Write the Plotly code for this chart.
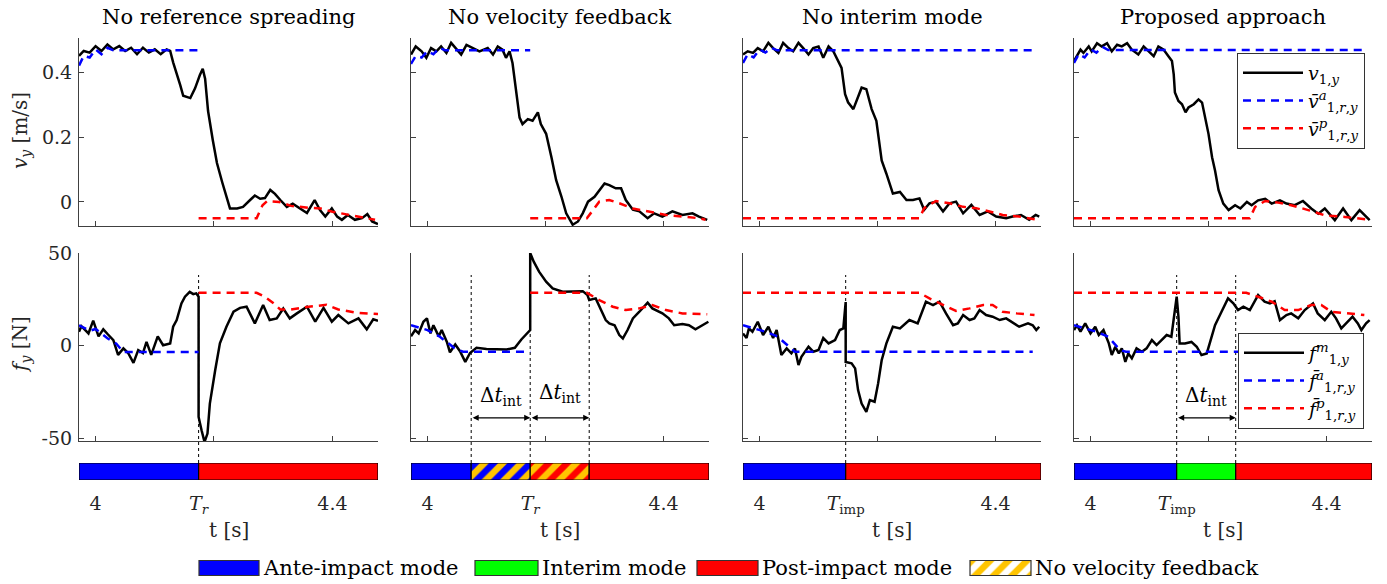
import plotly.graph_objects as go

W, H = 1387, 584
FONT = "DejaVu Serif"

# ---------------- data ----------------
titles = ["No reference spreading", "No velocity feedback", "No interim mode", "Proposed approach"]
T_START, T_END = 3.972, 4.477
v_ticks = [0, 0.2, 0.4]
v_ticktext = ["0", "0.2", "0.4"]
f_ticks = [-50, 0, 50]
f_ticktext = ["-50", "0", "50"]
t_ticks = [4.0, 4.2, 4.4]

# column 1: no reference spreading
t_v1 = [3.972, 3.98, 3.99, 4.00, 4.01, 4.02, 4.03, 4.04, 4.05, 4.06, 4.07, 4.08, 4.09, 4.10, 4.11, 4.12, 4.126, 4.131, 4.143, 4.148,
        4.16, 4.168, 4.176, 4.181, 4.185, 4.19, 4.198, 4.205, 4.214, 4.222, 4.227, 4.239, 4.249, 4.261, 4.269, 4.278, 4.286, 4.295, 4.303, 4.312,
        4.323, 4.333, 4.345, 4.357, 4.37, 4.379, 4.388, 4.399, 4.408, 4.416, 4.426, 4.438, 4.45, 4.459, 4.467, 4.477]
v1 = [0.45, 0.465, 0.46, 0.48, 0.465, 0.485, 0.47, 0.48, 0.465, 0.475, 0.455, 0.475, 0.46, 0.47, 0.455, 0.47, 0.465, 0.43, 0.36, 0.327,
      0.32, 0.35, 0.39, 0.41, 0.38, 0.28, 0.19, 0.12, 0.06, 0.006, -0.02, -0.02, -0.015, 0.006, 0.02, 0.01, 0.012, 0.037, 0.025, 0.006,
      -0.015, -0.005, -0.02, -0.034, 0.006, -0.025, -0.045, -0.02, -0.045, -0.055, -0.04, -0.055, -0.05, -0.037, -0.06, -0.068]
t_va1 = [3.972, 3.98, 3.99, 4.0, 4.01, 4.02, 4.03, 4.174]
va1 = [0.42, 0.45, 0.445, 0.47, 0.455, 0.475, 0.467, 0.467]
t_vp1 = [4.174, 4.272, 4.282, 4.29, 4.31, 4.33, 4.36, 4.38, 4.40, 4.43, 4.45, 4.472]
vp1 = [-0.05, -0.05, -0.01, 0.003, 0.0, -0.012, -0.018, -0.02, -0.03, -0.04, -0.047, -0.055]
t_f1 = [3.972, 3.976, 3.988, 3.996, 4.005, 4.013, 4.021, 4.03, 4.038, 4.047, 4.055, 4.064, 4.072, 4.08, 4.086, 4.094, 4.105, 4.114, 4.126, 4.131,
        4.137, 4.145, 4.151, 4.159, 4.165, 4.17, 4.174, 4.174, 4.179, 4.184, 4.189, 4.193, 4.202, 4.21, 4.221, 4.233, 4.244, 4.255, 4.269, 4.283,
        4.294, 4.306, 4.317, 4.328, 4.34, 4.357, 4.371, 4.385, 4.399, 4.41, 4.427, 4.444, 4.458, 4.469, 4.477]
f1 = [7.5, 10.5, 6.6, 13.5, 5, 8.8, 6, 3, -5, -1.5, -4, -9.3, -2.4, -4, 2, -5, 5, 0.2, 1.2, 10.2,
      13.8, 22.8, 26.4, 29, 27.8, 28.2, 26.4, -38.5, -45.7, -52, -47.5, -31.3, -13.3, 1.2, 10.2, 18.3, 20.4, 21, 12, 21.9,
      13.8, 14.7, 20, 14.7, 17.4, 21, 12.9, 20.4, 12.9, 16.5, 12, 14.7, 8.8, 14.2, 13.4]
t_fa1 = [3.972, 3.99, 4.0, 4.02, 4.035, 4.047, 4.174]
fa1 = [11, 8, 9, 4, 1, -3.5, -3.5]
t_fp1 = [4.174, 4.272, 4.285, 4.3, 4.312, 4.33, 4.36, 4.39, 4.41, 4.44, 4.477]
fp1 = [28.5, 28.5, 26.5, 23, 19.5, 19.5, 21, 22, 19.5, 17.8, 17]

# column 2: no velocity feedback
t_v2 = [3.972, 3.98, 3.99, 3.998, 4.006, 4.015, 4.023, 4.032, 4.04, 4.049, 4.057, 4.066, 4.077, 4.088, 4.102, 4.111, 4.119, 4.127, 4.133, 4.139,
        4.144, 4.15, 4.156, 4.161, 4.17, 4.178, 4.187, 4.192, 4.201, 4.21, 4.218, 4.227, 4.235, 4.246, 4.255, 4.263, 4.272, 4.283, 4.291, 4.3,
        4.308, 4.319, 4.328, 4.336, 4.348, 4.359, 4.373, 4.384, 4.398, 4.415, 4.432, 4.449, 4.46, 4.474]
v2 = [0.454, 0.479, 0.464, 0.444, 0.474, 0.464, 0.479, 0.459, 0.49, 0.469, 0.454, 0.484, 0.474, 0.464, 0.474, 0.454, 0.479, 0.469, 0.444, 0.464,
      0.428, 0.352, 0.26, 0.24, 0.255, 0.25, 0.276, 0.24, 0.21, 0.138, 0.067, 0.016, -0.035, -0.07, -0.06, -0.035, 0.001, 0.016, 0.037, 0.057,
      0.052, 0.042, 0.042, 0.006, -0.024, -0.029, -0.05, -0.035, -0.045, -0.029, -0.04, -0.035, -0.045, -0.055]
t_va2 = [3.972, 3.98, 3.99, 4.0, 4.01, 4.02, 4.03, 4.174]
va2 = [0.425, 0.45, 0.445, 0.465, 0.455, 0.475, 0.467, 0.467]
t_vp2 = [4.174, 4.27, 4.281, 4.291, 4.308, 4.325, 4.348, 4.376, 4.404, 4.432, 4.46, 4.471]
vp2 = [-0.05, -0.05, -0.024, 0.001, 0.006, -0.004, -0.02, -0.03, -0.04, -0.045, -0.05, -0.055]
t_f2 = [3.972, 3.979, 3.985, 3.993, 3.999, 4.005, 4.01, 4.019, 4.024, 4.033, 4.038, 4.047, 4.055, 4.064, 4.072, 4.083, 4.1, 4.117, 4.134, 4.148,
        4.159, 4.174, 4.174, 4.18, 4.189, 4.201, 4.212, 4.229, 4.246, 4.263, 4.271, 4.274, 4.285, 4.294, 4.302, 4.308, 4.317, 4.325, 4.331, 4.339,
        4.348, 4.359, 4.373, 4.381, 4.398, 4.409, 4.418, 4.432, 4.443, 4.454, 4.466, 4.476]
f2 = [5, 8.4, 6.6, 12.9, 14.7, 6.6, 11, 5, 8.4, 1.8, -3.6, 0.6, -3, -8.8, -4, -1.2, -1.8, -2.1, -2.1, -1.2,
      3.3, 8.4, 50, 45.3, 39.9, 34.5, 30.9, 29.1, 29.1, 29.4, 27.3, 24.6, 25.5, 19.2, 13.8, 12, 11, 5.7, 3.9, 8.4,
      14.7, 18.3, 23.2, 20.1, 17.4, 14.7, 11, 11.6, 11, 8.8, 11, 12.9]
t_fa2 = [3.972, 4.0, 4.02, 4.045, 4.06, 4.174]
fa2 = [11, 8.4, 5, -1.2, -3.3, -3.3]
t_fp2 = [4.174, 4.27, 4.291, 4.314, 4.336, 4.359, 4.381, 4.404, 4.432, 4.474]
fp2 = [28.5, 28.5, 24.6, 21, 19.2, 20.1, 21.9, 19.2, 17.4, 16.9]

# column 3: no interim mode
t_v3 = [3.972, 3.98, 3.989, 3.997, 4.006, 4.015, 4.023, 4.032, 4.04, 4.049, 4.057, 4.066, 4.074, 4.083, 4.091, 4.1, 4.108, 4.117, 4.125, 4.134,
        4.139, 4.145, 4.15, 4.159, 4.167, 4.173, 4.181, 4.19, 4.198, 4.207, 4.215, 4.226, 4.238, 4.249, 4.26, 4.271, 4.279, 4.288, 4.299, 4.311,
        4.322, 4.333, 4.345, 4.359, 4.373, 4.387, 4.401, 4.418, 4.429, 4.443, 4.457, 4.468, 4.474]
v3 = [0.454, 0.464, 0.459, 0.474, 0.464, 0.49, 0.474, 0.459, 0.49, 0.474, 0.464, 0.49, 0.474, 0.454, 0.474, 0.479, 0.444, 0.479, 0.464, 0.434,
      0.413, 0.332, 0.307, 0.286, 0.322, 0.352, 0.347, 0.286, 0.25, 0.128, 0.087, 0.026, 0.031, 0.006, 0.006, 0.011, -0.024, -0.004, 0.001, -0.029,
      -0.004, 0.001, -0.035, -0.009, -0.04, -0.029, -0.045, -0.05, -0.045, -0.04, -0.055, -0.04, -0.045]
t_va3 = [3.972, 3.98, 3.99, 4.0, 4.01, 4.02, 4.03, 4.465]
va3 = [0.428, 0.455, 0.445, 0.47, 0.46, 0.475, 0.467, 0.467]
t_vp3 = [3.972, 4.271, 4.279, 4.299, 4.322, 4.345, 4.367, 4.39, 4.412, 4.44, 4.471]
vp3 = [-0.05, -0.05, -0.019, 0.003, -0.004, -0.015, -0.019, -0.029, -0.04, -0.045, -0.055]
t_f3 = [3.972, 3.978, 3.982, 3.988, 3.997, 4.006, 4.015, 4.023, 4.029, 4.037, 4.046, 4.054, 4.06, 4.066, 4.071, 4.083, 4.091, 4.1, 4.108, 4.117,
        4.128, 4.136, 4.142, 4.146, 4.146, 4.156, 4.162, 4.167, 4.173, 4.181, 4.187, 4.195, 4.201, 4.207, 4.215, 4.226, 4.238, 4.254, 4.268, 4.282,
        4.294, 4.305, 4.316, 4.328, 4.336, 4.345, 4.356, 4.364, 4.373, 4.384, 4.395, 4.407, 4.418, 4.432, 4.44, 4.455, 4.463, 4.469, 4.474]
f3 = [6.6, 4.1, 9.3, 7.5, 12.9, 5.7, 10.2, 4.1, 8.4, -5.1, -1.5, -4.2, -1.5, -10.5, -6, -0.6, -3.3, -2.4, 4.1, 1.2,
      3, 8.4, 9.3, 23.5, -8.8, -9.6, -12.3, -24, -31.3, -35.8, -29.4, -30.3, -20.4, -7.9, 1.2, 10.2, 9.3, 13.8, 12, 23.7,
      21.9, 23.7, 17.4, 11, 12, 16.5, 13.8, 14.7, 19.2, 16.5, 15.6, 13.8, 14.7, 12, 10.2, 12, 11, 8.4, 10.2]
t_fa3 = [3.972, 3.99, 4.01, 4.03, 4.05, 4.06, 4.463]
fa3 = [11, 9.3, 7.5, 5, -0.6, -3.3, -3.3]
t_fp3 = [3.972, 4.271, 4.288, 4.311, 4.333, 4.356, 4.379, 4.395, 4.412, 4.435, 4.466]
fp3 = [28.5, 28.5, 25.5, 21.9, 18.7, 20.1, 21.9, 21.9, 18.3, 17.4, 16.5]

# column 4: proposed approach
t_v4 = [3.972, 3.977, 3.983, 3.988, 3.997, 4.002, 4.011, 4.019, 4.028, 4.036, 4.045, 4.053, 4.062, 4.07, 4.081, 4.09, 4.098, 4.107, 4.115, 4.124,
        4.132, 4.138, 4.141, 4.143, 4.149, 4.155, 4.161, 4.166, 4.175, 4.183, 4.189, 4.194, 4.2, 4.206, 4.211, 4.217, 4.225, 4.234, 4.245, 4.254,
        4.265, 4.273, 4.284, 4.296, 4.307, 4.321, 4.332, 4.346, 4.36, 4.374, 4.386, 4.397, 4.414, 4.428, 4.442, 4.456, 4.464, 4.473]
v4 = [0.434, 0.449, 0.469, 0.459, 0.479, 0.464, 0.489, 0.479, 0.489, 0.464, 0.484, 0.479, 0.489, 0.469, 0.454, 0.479, 0.464, 0.449, 0.479, 0.469,
      0.449, 0.434, 0.393, 0.337, 0.311, 0.301, 0.276, 0.291, 0.301, 0.316, 0.306, 0.265, 0.209, 0.138, 0.097, 0.036, -0.005, -0.025, -0.01, -0.02,
      0.0, -0.01, 0.005, 0.01, -0.005, 0.005, -0.005, -0.01, 0.003, -0.02, -0.036, -0.02, -0.056, -0.02, -0.056, -0.025, -0.041, -0.056]
t_va4 = [3.972, 3.98, 3.99, 4.0, 4.01, 4.02, 4.03, 4.464]
va4 = [0.428, 0.455, 0.445, 0.47, 0.46, 0.478, 0.468, 0.468]
t_vp4 = [3.972, 4.27, 4.279, 4.296, 4.318, 4.34, 4.369, 4.397, 4.431, 4.47]
vp4 = [-0.05, -0.05, -0.015, 0.003, -0.002, -0.01, -0.025, -0.041, -0.046, -0.054]
t_f4 = [3.972, 3.977, 3.983, 3.991, 4.0, 4.008, 4.014, 4.022, 4.031, 4.036, 4.042, 4.048, 4.053, 4.059, 4.064, 4.07, 4.078, 4.087, 4.095, 4.104,
        4.112, 4.121, 4.129, 4.137, 4.142, 4.146, 4.149, 4.151, 4.16, 4.171, 4.18, 4.188, 4.197, 4.202, 4.211, 4.222, 4.233, 4.242, 4.25, 4.259,
        4.27, 4.284, 4.295, 4.304, 4.312, 4.321, 4.332, 4.34, 4.352, 4.363, 4.377, 4.385, 4.397, 4.408, 4.416, 4.425, 4.436, 4.444, 4.453, 4.459,
        4.467, 4.473]
f4 = [8.4, 11, 7.5, 12, 6.6, 10.2, 5.7, 8.4, 1.2, -5.1, -0.6, -4.2, -1.5, -8.8, -4.2, -6.9, -1.5, -3.3, -1.5, 3,
      0.3, 3, 5.7, 4.8, 15.6, 26.4, 15.6, 1.2, 1.2, 2, -0.6, -5.1, -4.2, 1.2, 11, 18.3, 25.5, 22.8, 19.2, 21,
      19.2, 27.3, 23.7, 22.8, 24, 13.8, 16.5, 17.4, 14.7, 19.2, 22.8, 17.4, 13.8, 18.3, 14.7, 9.3, 12.9, 15.6, 12, 8.4,
      12, 13.8]
t_fa4 = [3.972, 3.99, 4.01, 4.03, 4.05, 4.06, 4.463]
fa4 = [11, 9.3, 7.5, 4.8, -2.4, -3.3, -3.3]
t_fp4 = [3.972, 4.264, 4.284, 4.307, 4.329, 4.352, 4.374, 4.391, 4.408, 4.431, 4.464]
fp4 = [28.5, 28.5, 26.4, 23.7, 19.2, 19.2, 21.9, 21.9, 18.3, 17.4, 16.5]

# mode timelines (boundaries) and mode names
mode_bounds1 = [T_START, 4.174, T_END]
mode_names1 = ["ante", "post"]
mode_bounds2 = [T_START, 4.074, 4.174, 4.274, T_END]
mode_names2 = ["ante", "nvf_ante", "nvf_post", "post"]
mode_bounds3 = [T_START, 4.146, T_END]
mode_names3 = ["ante", "post"]
mode_bounds4 = [T_START, 4.146, 4.246, T_END]
mode_names4 = ["ante", "interim", "post"]

event_t = [4.174, 4.174, 4.146, 4.146]
event_label = ["<i>T<sub>r</sub></i>", "<i>T<sub>r</sub></i>", "<i>T</i><sub>imp</sub>", "<i>T</i><sub>imp</sub>"]
dotted_lines = [[4.174], [4.074, 4.174, 4.274], [4.146], [4.146, 4.246]]
dt_intervals = [[], [(4.074, 4.174), (4.174, 4.274)], [], [(4.146, 4.246)]]

legend_modes = ["ante", "interim", "post", "nvf_post"]
legend_mode_labels = ["Ante-impact mode", "Interim mode", "Post-impact mode", "No velocity feedback"]

# ---------------- styling ----------------
BLUE, RED, GREEN, GOLD = "#0000FF", "#FF0000", "#00FF00", "#FFC400"
AX = "#404040"
HATCH = dict(shape="/", fgcolor=GOLD, size=13, solidity=0.5, fgopacity=1, fillmode="replace")
mode_style = {
    "ante": dict(color=BLUE),
    "post": dict(color=RED),
    "interim": dict(color=GREEN),
    "nvf_ante": dict(color=BLUE, pattern=dict(HATCH, bgcolor=BLUE)),
    "nvf_post": dict(color=RED, pattern=dict(HATCH, bgcolor=RED)),
}

col_left = [79, 411, 743, 1074]
col_right = [378, 709, 1041, 1372]


def px(p):
    return p / W


def py(p):
    return 1 - p / H


cols = [
    (t_v1, v1, t_va1, va1, t_vp1, vp1, t_f1, f1, t_fa1, fa1, t_fp1, fp1, mode_bounds1, mode_names1),
    (t_v2, v2, t_va2, va2, t_vp2, vp2, t_f2, f2, t_fa2, fa2, t_fp2, fp2, mode_bounds2, mode_names2),
    (t_v3, v3, t_va3, va3, t_vp3, vp3, t_f3, f3, t_fa3, fa3, t_fp3, fp3, mode_bounds3, mode_names3),
    (t_v4, v4, t_va4, va4, t_vp4, vp4, t_f4, f4, t_fa4, fa4, t_fp4, fp4, mode_bounds4, mode_names4),
]

fig = go.Figure()
layout = {}
shapes = []
annotations = []
DASH = "8px,6px"
LW = 2.5
TICKFONT = dict(size=19, color="#262626")


def ax_names(n):
    return ("x" if n == 1 else f"x{n}"), ("y" if n == 1 else f"y{n}")


def lay_names(n):
    return ("xaxis" if n == 1 else f"xaxis{n}"), ("yaxis" if n == 1 else f"yaxis{n}")


def text_note(x, y, text, size=19, color="#262626", **kw):
    d = dict(x=x, y=y, xref="paper", yref="paper", text=text, showarrow=False, xanchor="center",
             yanchor="middle", font=dict(size=size, color=color))
    d.update(kw)
    return d


v_leg = ["<i>v</i><sub>1,<i>y</i></sub>", "<i>v̄</i><sup><i>a</i></sup><sub>1,<i>r</i>,<i>y</i></sub>",
         "<i>v̄</i><sup><i>p</i></sup><sub>1,<i>r</i>,<i>y</i></sub>"]
f_leg = ["<i>f</i><sup><i>m</i></sup><sub>1,<i>y</i></sub>", "<i>f̄</i><sup><i>a</i></sup><sub>1,<i>r</i>,<i>y</i></sub>",
         "<i>f̄</i><sup><i>p</i></sup><sub>1,<i>r</i>,<i>y</i></sub>"]

for c, data in enumerate(cols):
    (tv, v, tva, va, tvp, vp, tf, f, tfa, fa, tfp, fp, mb, mn) = data
    n_top, n_bot, n_bar = 3 * c + 1, 3 * c + 2, 3 * c + 3
    last = c == 3
    for n, (tt, yy, ta, ya, tp, yp, names, legname) in [
        (n_top, (tv, v, tva, va, tvp, vp, v_leg, "legend")),
        (n_bot, (tf, f, tfa, fa, tfp, fp, f_leg, "legend2")),
    ]:
        xa, ya_ = ax_names(n)
        fig.add_trace(go.Scatter(x=tt, y=yy, mode="lines", line=dict(color="black", width=LW),
                                 xaxis=xa, yaxis=ya_, name=names[0], showlegend=last, legend=legname))
        fig.add_trace(go.Scatter(x=ta, y=ya, mode="lines", line=dict(color=BLUE, width=LW, dash=DASH),
                                 xaxis=xa, yaxis=ya_, name=names[1], showlegend=last, legend=legname))
        fig.add_trace(go.Scatter(x=tp, y=yp, mode="lines", line=dict(color=RED, width=LW, dash=DASH),
                                 xaxis=xa, yaxis=ya_, name=names[2], showlegend=last, legend=legname))
    # mode bar
    xa, ya_ = ax_names(n_bar)
    for i, m in enumerate(mn):
        st = mode_style[m]
        marker = dict(color=st["color"], line=dict(color="black", width=1.2))
        if "pattern" in st:
            marker["pattern"] = st["pattern"]
        fig.add_trace(go.Bar(y=[0], x=[mb[i + 1] - mb[i]], base=[mb[i]], orientation="h", width=1,
                             marker=marker, xaxis=xa, yaxis=ya_, showlegend=False, hoverinfo="skip"))

    dom_x = [px(col_left[c]), px(col_right[c])]
    common = dict(showgrid=False, zeroline=False, showline=True, linecolor=AX, linewidth=1,
                  ticks="inside", ticklen=5, tickcolor=AX, tickfont=TICKFONT, automargin=False)
    # top
    xk, yk = lay_names(n_top)
    layout[xk] = dict(domain=dom_x, range=[T_START, T_END], anchor=ax_names(n_top)[1], tickvals=t_ticks,
                      showticklabels=False, **common)
    layout[yk] = dict(domain=[py(226), py(38)], range=[-0.074, 0.505], anchor=ax_names(n_top)[0],
                      tickvals=v_ticks, ticktext=v_ticktext, showticklabels=(c == 0), ticklabelstandoff=2, **common)
    # bottom
    xk, yk = lay_names(n_bot)
    layout[xk] = dict(domain=dom_x, range=[T_START, T_END], anchor=ax_names(n_bot)[1], tickvals=t_ticks,
                      showticklabels=False, **common)
    layout[yk] = dict(domain=[py(441), py(253)], range=[-51.5, 50], anchor=ax_names(n_bot)[0],
                      tickvals=f_ticks, ticktext=f_ticktext, showticklabels=(c == 0), ticklabelstandoff=2, **common)
    # bar
    xk, yk = lay_names(n_bar)
    layout[xk] = dict(domain=dom_x, range=[T_START, T_END], anchor=ax_names(n_bar)[1],
                      tickvals=[t_ticks[0], event_t[c], t_ticks[2]],
                      ticktext=["4", event_label[c], "4.4"], ticks="", showline=False, showgrid=False,
                      zeroline=False, tickfont=TICKFONT, ticklabelstandoff=10, automargin=False)
    layout[yk] = dict(domain=[py(480), py(463)], range=[-0.5, 0.5], anchor=ax_names(n_bar)[0], visible=False)

    # dotted event lines
    xb = ax_names(n_bot)[0]
    for tl in dotted_lines[c]:
        shapes.append(dict(type="line", xref=xb, yref="paper", x0=tl, x1=tl, y0=py(463), y1=py(275),
                           line=dict(color="black", width=1, dash="dot"), layer="below"))
    # delta t arrows
    yb = ax_names(n_bot)[1]
    for k, (a, b) in enumerate(dt_intervals[c]):
        annotations.append(dict(x=b, y=-39, ax=a, ay=-39, xref=xb, yref=yb, axref=xb, ayref=yb, text="",
                                showarrow=True, arrowhead=2, arrowside="end+start", arrowsize=1, arrowwidth=1.2,
                                arrowcolor="black"))
        annotations.append(dict(x=(a + b) / 2, y=-27 + (1.5 if k == 1 else 0), xref=xb, yref=yb,
                                text="Δ<i>t</i><sub>int</sub>", showarrow=False, xanchor="center",
                                yanchor="middle", font=dict(size=20, color="black")))
    xc = px((col_left[c] + col_right[c]) / 2)
    annotations.append(text_note(xc, py(17), titles[c], size=21, color="black"))
    annotations.append(text_note(xc, py(530), "t [s]", size=20))

# y-axis titles
annotations.append(text_note(px(21), py(131), "<i>v</i><sub><i>y</i></sub> [m/s]", size=20, textangle=-90))
annotations.append(text_note(px(21), py(345), "<i>f</i><sub><i>y</i></sub> [N]", size=20, textangle=-90))

# custom mode legend
swatch_x = [(199, 259), (475, 538), (697, 758), (970, 1031)]
for (x0, x1), m, lab in zip(swatch_x, legend_modes, legend_mode_labels):
    st = mode_style[m]
    marker = dict(color=st["color"], line=dict(color="#333333", width=1.2))
    if "pattern" in st:
        marker["pattern"] = dict(st["pattern"], bgcolor="white")
        marker["color"] = "white"
    fig.add_trace(go.Bar(y=[0], x=[x1 - x0], base=[x0], orientation="h", width=0.75, marker=marker,
                         xaxis="x13", yaxis="y13", showlegend=False, hoverinfo="skip"))
    annotations.append(dict(x=x1 + 2, y=0, xref="x13", yref="y13", text=lab, xanchor="left", yanchor="middle",
                            showarrow=False, font=dict(size=21, color="black")))
layout["xaxis13"] = dict(domain=[0, 1], range=[0, W], visible=False, anchor="y13")
layout["yaxis13"] = dict(domain=[py(578), py(558)], range=[-0.5, 0.5], visible=False, anchor="x13")

fig.update_layout(
    width=W, height=H, autosize=False,
    margin=dict(l=0, r=0, t=0, b=0, pad=0),
    plot_bgcolor="white", paper_bgcolor="white",
    font=dict(family=FONT, size=18, color="#262626"),
    barmode="overlay",
    shapes=shapes, annotations=annotations,
    legend=dict(x=px(1237), y=py(53), xanchor="left", yanchor="top", bgcolor="white", bordercolor="#333333",
                borderwidth=1, font=dict(size=19, color="black"), itemwidth=60, tracegroupgap=0),
    legend2=dict(x=px(1238), y=py(333), xanchor="left", yanchor="top", bgcolor="white", bordercolor="#333333",
                 borderwidth=1, font=dict(size=19, color="black"), itemwidth=60, tracegroupgap=0),
    **layout,
)

fig.write_html("out.html", config={"displayModeBar": False},
               post_script="document.body.style.margin='0';")
